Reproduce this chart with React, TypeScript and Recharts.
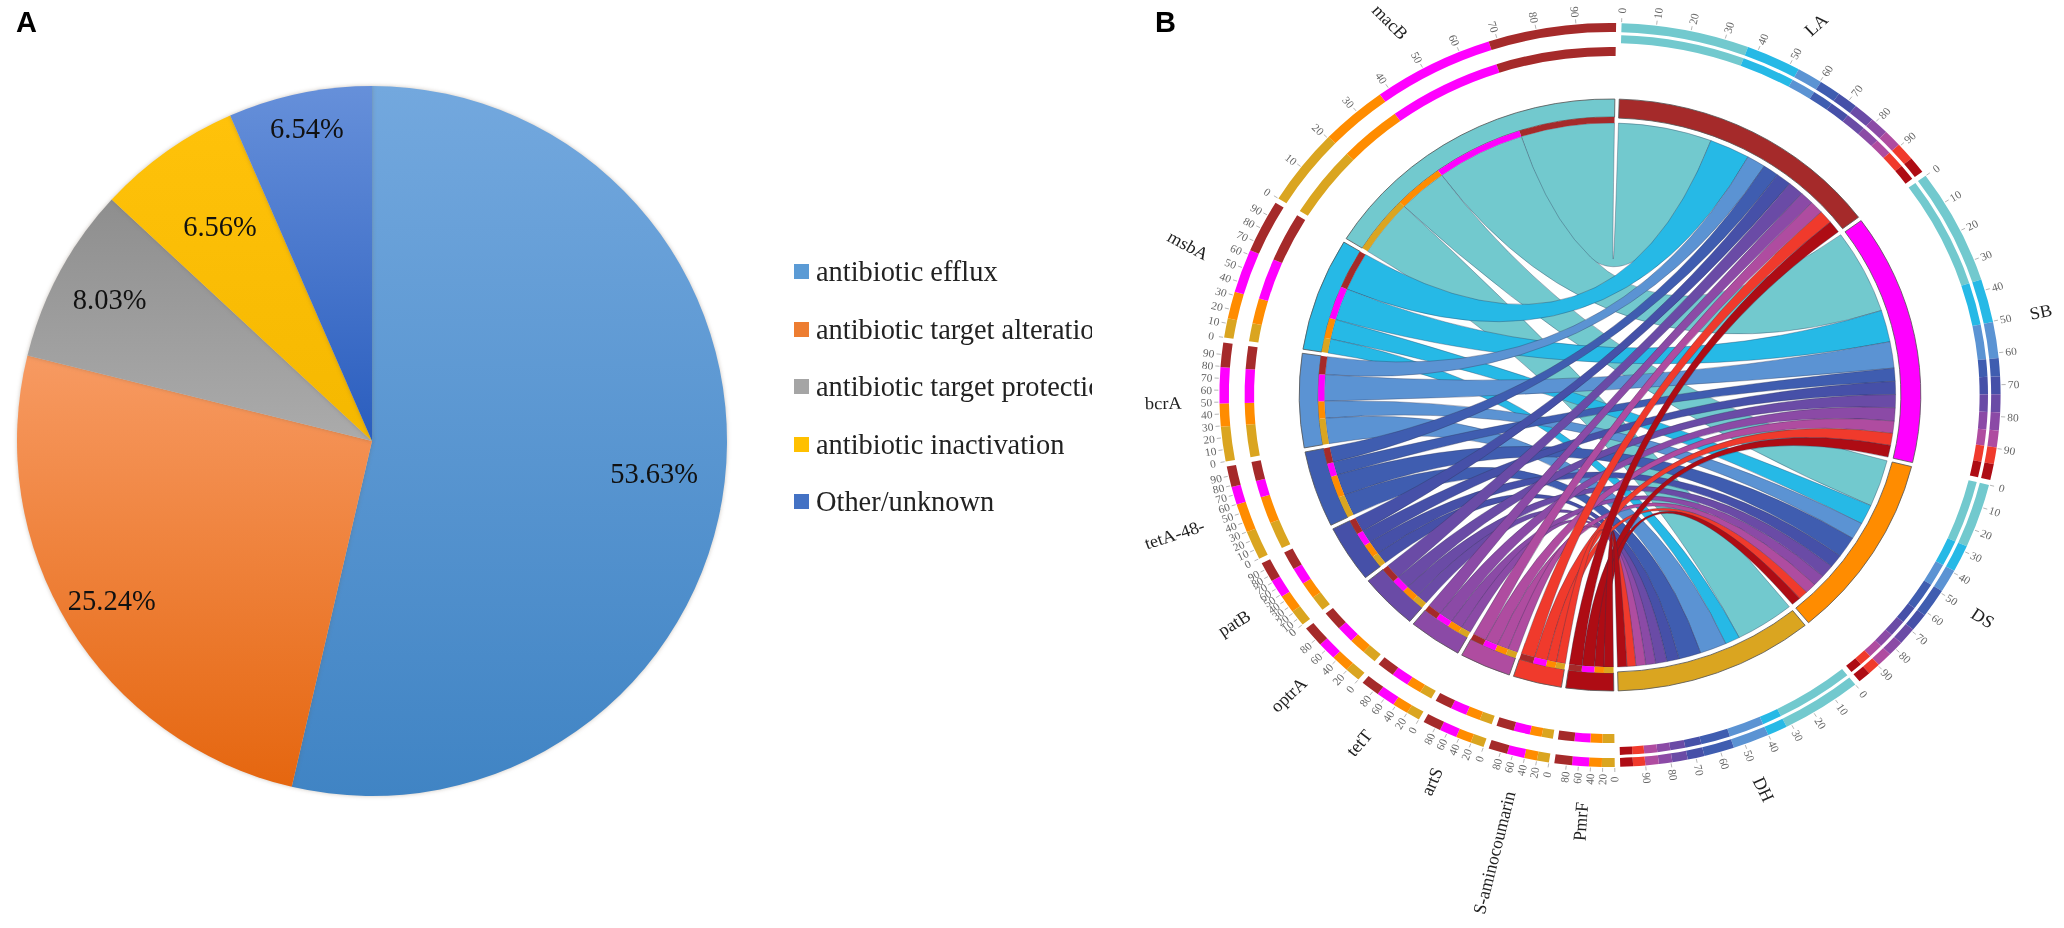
import { PieChart, Pie, Legend } from 'recharts';

// panel A
const pieNames = ['antibiotic efflux', 'antibiotic target alteration', 'antibiotic target protection', 'antibiotic inactivation', 'Other/unknown'];
const pieValues = [53.63, 25.24, 8.03, 6.56, 6.54];
const pieTop = ['#73A8DE', '#F79A62', '#8E8E8E', '#FFC20A', '#6690DA'];
const pieBottom = ['#4084C4', '#E5660F', '#ABABAB', '#F5B800', '#2A5DBE'];
const pieSwatch = ['#5B9BD5', '#ED7D31', '#A5A5A5', '#FFC000', '#4472C4'];
const pieLabelReach = [0.8, 0.86, 0.84, 0.74, 0.9];

// panel B: flows read from the tracks, order DH, DS, SB, LA
const targetNames = ['LA', 'SB', 'DS', 'DH'];
const targetColors = ['#A52A2A', '#FF00FF', '#FF8C00', '#DAA520'];
const targetTilt = [20, 0, 0, -5];
const geneNames = ['macB', 'msbA', 'bcrA', 'tetA-48-', 'patB', 'optrA', 'tetT', 'artS', 'S-aminocoumarin', 'PmrF'];
const geneColors = ['#72C9CE', '#26B9E6', '#5B93D3', '#3F5DB0', '#4650A8', '#6A4BA6', '#8B4AA6', '#AF4CA0', '#F03A2C', '#AE0C14'];
const geneTilt = [-15, 9, 0, 0, 0, 0, 5, 0, 0, 0];
const macBFlow = [12, 10, 18, 19];
const msbAFlow = [3, 4.2, 6.8, 8.2];
const bcrAFlow = [5.4, 3.6, 5.6, 3.8];
const tetAFlow = [4.5, 4.5, 2.8, 3.2];
const patBFlow = [2.5, 2.8, 2.8, 3.1];
const optrAFlow = [2.3, 2.7, 2.8, 3.2];
const tetTFlow = [2, 2.4, 2.8, 2.8];
const artSFlow = [2, 2.3, 2.6, 2.7];
const sAminoFlow = [1.8, 1.9, 2.6, 2.8];
const pmrFFlow = [1.9, 1.9, 2.5, 2.6];
const geneFlows = [macBFlow, msbAFlow, bcrAFlow, tetAFlow, patBFlow, optrAFlow, tetTFlow, artSFlow, sAminoFlow, pmrFFlow];
const geneTickSteps = [10, 10, 10, 10, 10, 20, 20, 20, 20, 20];
const flowOrder = ['DH', 'DS', 'SB', 'LA'];
const gapValue = 0.8;

const CX = 450;
const CY = 395;
const START = 1.3;
const serif = '"Liberation Serif", serif';
const sans = '"Liberation Sans", sans-serif';

interface Arc {
  side: 'gene' | 'target' | 'gap',
  sector: number,
  other: number,
  value: number,
  from: number,
  to: number,
}

const flowOf = (gene: number, target: number) => geneFlows[gene][flowOrder.indexOf(targetNames[target])];

const buildArcs = () => {
  const arcs: Arc[] = [];
  const gap = (size: number) => arcs.push({ side: 'gap', sector: -1, other: -1, value: size, from: 0, to: 0 });
  gap(gapValue / 2);
  targetNames.forEach((_, t) => {
    geneNames.forEach((__, g) => arcs.push({ side: 'target', sector: t, other: g, value: flowOf(g, t), from: 0, to: 0 }));
    gap(gapValue);
  });
  for (let g = geneNames.length - 1; g >= 0; g--) {
    flowOrder.forEach((name) => {
      const t = targetNames.indexOf(name);
      arcs.push({ side: 'gene', sector: g, other: t, value: flowOf(g, t), from: 0, to: 0 });
    });
    if (g > 0) gap(gapValue);
  }
  gap(gapValue / 2);
  const total = arcs.reduce((s, a) => s + a.value, 0);
  let run = 0;
  arcs.forEach((a) => {
    a.from = START + (run / total) * 360;
    run += a.value;
    a.to = START + (run / total) * 360;
  });
  return arcs;
};

const arcs = buildArcs();

const polar = (deg: number, r: number) => {
  const rad = (deg * Math.PI) / 180;
  return { x: CX + r * Math.sin(rad), y: CY - r * Math.cos(rad) };
};

const sectorSpan = (side: string, sector: number) => {
  const own = arcs.filter((a) => a.side === side && a.sector === sector);
  return { from: own[0].from, to: own[own.length - 1].to };
};

const textTurn = (deg: number) => (deg < 180 ? deg - 90 : deg - 270);

// one ring of the chord diagram, everything that is not on this ring stays empty
const ringData = (side: string, fillOf: (a: Arc) => string) =>
  arcs.map((a) => ({ value: a.value, fill: a.side === side ? fillOf(a) : 'none', stroke: 'none' }));

// whole sectors merged into one slice, so the outline runs round the sector only
const bandData = (side: string, fills: string[]) => {
  const merged: { value: number, fill: string, stroke: string, key: string }[] = [];
  arcs.forEach((a) => {
    const key = `${a.side}${a.sector}`;
    const last = merged[merged.length - 1];
    if (last && last.key === key) {
      last.value += a.value;
    } else {
      const on = a.side === side;
      merged.push({ value: a.value, fill: on ? fills[a.sector] : 'none', stroke: on ? '#555' : 'none', key });
    }
  });
  return merged;
};

const Ring = (data: { value: number, fill: string, stroke: string }[], inner: number, outer: number, key: string) => (
  <Pie
    key={key}
    data={data}
    dataKey="value"
    cx={CX}
    cy={CY}
    innerRadius={inner}
    outerRadius={outer}
    startAngle={90 - START}
    endAngle={90 - START - 360}
    strokeWidth={0.8}
    isAnimationActive={false}
  />
);

const Ribbons = () => {
  const r = 272;
  const c = `${CX} ${CY}`;
  const paths = [];
  geneNames.forEach((_, g) => {
    targetNames.forEach((__, t) => {
      const a = arcs.find((x) => x.side === 'gene' && x.sector === g && x.other === t);
      const b = arcs.find((x) => x.side === 'target' && x.sector === t && x.other === g);
      if (!a || !b) return;
      const a0 = polar(a.from, r);
      const a1 = polar(a.to, r);
      const b0 = polar(b.from, r);
      const b1 = polar(b.to, r);
      const d = `M${a0.x} ${a0.y}A${r} ${r} 0 0 1 ${a1.x} ${a1.y}Q${c} ${b0.x} ${b0.y}A${r} ${r} 0 0 1 ${b1.x} ${b1.y}Q${c} ${a0.x} ${a0.y}Z`;
      paths.push(<path key={`${g}-${t}`} d={d} fill={geneColors[g]} stroke="#2c3350" strokeOpacity={0.55} strokeWidth={0.6} />);
    });
  });
  return <g>{paths}</g>;
};

const SectorTicks = ({ side, sector, outer, step }: { side: string, sector: number, outer: number, step: number }) => {
  const span = sectorSpan(side, sector);
  const ticks = [];
  for (let v = 0; v < 100; v += step) {
    const deg = span.from + (span.to - span.from) * (v / 100);
    const p0 = polar(deg, outer + 1);
    const p1 = polar(deg, outer + 5);
    const p2 = polar(deg, outer + 12.5);
    ticks.push(
      <g key={v}>
        <line x1={p0.x} y1={p0.y} x2={p1.x} y2={p1.y} stroke="#999" strokeWidth={0.7} />
        <text
          x={p2.x}
          y={p2.y}
          fontSize={11}
          fontFamily={serif}
          fill="#666"
          textAnchor="middle"
          dominantBaseline="central"
          transform={`rotate(${textTurn(deg)} ${p2.x} ${p2.y})`}
        >
          {v}
        </text>
      </g>
    );
  }
  return <g>{ticks}</g>;
};

const SectorLabel = ({ side, sector, name, tilt }: { side: string, sector: number, name: string, tilt: number }) => {
  const span = sectorSpan(side, sector);
  const deg = (span.from + span.to) / 2;
  const p = polar(deg, 408);
  return (
    <text
      x={p.x}
      y={p.y}
      fontSize={17.5}
      fontFamily={serif}
      fill="#222"
      textAnchor={deg < 180 ? 'start' : 'end'}
      dominantBaseline="central"
      transform={`rotate(${textTurn(deg) + tilt} ${p.x} ${p.y})`}
    >
      {name}
    </text>
  );
};

const renderPieLabel = ({ cx, cy, midAngle, outerRadius, index, value }: any) => {
  const rad = (midAngle * Math.PI) / 180;
  const r = outerRadius * pieLabelReach[index];
  return (
    <text
      x={cx + r * Math.cos(rad)}
      y={cy - r * Math.sin(rad)}
      fontSize={28.5}
      fontFamily={serif}
      fill="#111"
      textAnchor="middle"
      dominantBaseline="central"
    >
      {value.toFixed(2)}%
    </text>
  );
};

const PieLegend = () => (
  <div style={{ fontFamily: serif, fontSize: 28.4, color: '#222', whiteSpace: 'nowrap' }}>
    {pieNames.map((name, i) => (
      <div key={name} style={{ height: 57.5, lineHeight: '57.5px', display: 'flex', alignItems: 'center' }}>
        <span style={{ width: 15, height: 15, background: pieSwatch[i], marginRight: 7, flex: 'none' }} />
        {name}
      </div>
    ))}
  </div>
);

const pieData = pieNames.map((name, i) => ({ name, value: pieValues[i], fill: `url(#slice${i})` }));

const App = () => {
  return (
    <div style={{ position: 'absolute', left: 0, top: 0, width: 2064, height: 928, overflow: 'hidden', background: '#fff', filter: 'blur(0.6px)' }}>
      <style>{'.pie-a .recharts-pie-sector{filter:drop-shadow(0 0 2px rgba(110,90,70,.35))}'}</style>
      <div className="pie-a" style={{ position: 'absolute', left: 0, top: 0 }}>
        <PieChart width={1200} height={928} margin={{ top: 0, right: 0, bottom: 0, left: 0 }}>
          <defs>
            {pieTop.map((top, i) => (
              <linearGradient key={top} id={`slice${i}`} x1="0" y1="0" x2="0" y2="1">
                <stop offset="0%" stopColor={top} />
                <stop offset="100%" stopColor={pieBottom[i]} />
              </linearGradient>
            ))}
          </defs>
          <text x={16} y={32} fontSize={29} fontWeight="bold" fontFamily={sans} fill="#000">A</text>
          <text x={1155} y={32} fontSize={29} fontWeight="bold" fontFamily={sans} fill="#000">B</text>
          <Pie
            data={pieData}
            dataKey="value"
            nameKey="name"
            cx={372}
            cy={441}
            innerRadius={0}
            outerRadius={355}
            startAngle={90}
            endAngle={-270}
            stroke="none"
            label={renderPieLabel}
            labelLine={false}
            isAnimationActive={false}
          />
          <Legend
            content={<PieLegend />}
            wrapperStyle={{ left: 794, top: 243, bottom: 'auto', width: 298, overflow: 'hidden' }}
          />
        </PieChart>
      </div>
      <div style={{ position: 'absolute', left: 1160, top: 0, transform: 'scaleX(1.05)', transformOrigin: '450px 395px' }}>
        <PieChart width={900} height={928} margin={{ top: 0, right: 0, bottom: 0, left: 0 }}>
          <Ribbons />
          {Ring(bandData('target', targetColors), 277, 296, 'target-band')}
          {Ring(bandData('gene', geneColors), 278, 296, 'gene-band')}
          {Ring(ringData('gene', (a) => targetColors[a.other]), 272, 278, 'gene-ring')}
          {Ring(ringData('target', (a) => geneColors[a.other]), 363, 372, 'target-track-outer')}
          {Ring(ringData('target', (a) => geneColors[a.other]), 352, 360, 'target-track-inner')}
          {Ring(ringData('gene', (a) => targetColors[a.other]), 363, 372, 'gene-track-outer')}
          {Ring(ringData('gene', (a) => targetColors[a.other]), 339, 348, 'gene-track-inner')}
          {targetNames.map((name, t) => (
            <g key={name}>
              <SectorTicks side="target" sector={t} outer={372} step={10} />
              <SectorLabel side="target" sector={t} name={name} tilt={targetTilt[t]} />
            </g>
          ))}
          {geneNames.map((name, g) => (
            <g key={name}>
              <SectorTicks side="gene" sector={g} outer={372} step={geneTickSteps[g]} />
              <SectorLabel side="gene" sector={g} name={name} tilt={geneTilt[g]} />
            </g>
          ))}
        </PieChart>
      </div>
    </div>
  );
};

export default App;
